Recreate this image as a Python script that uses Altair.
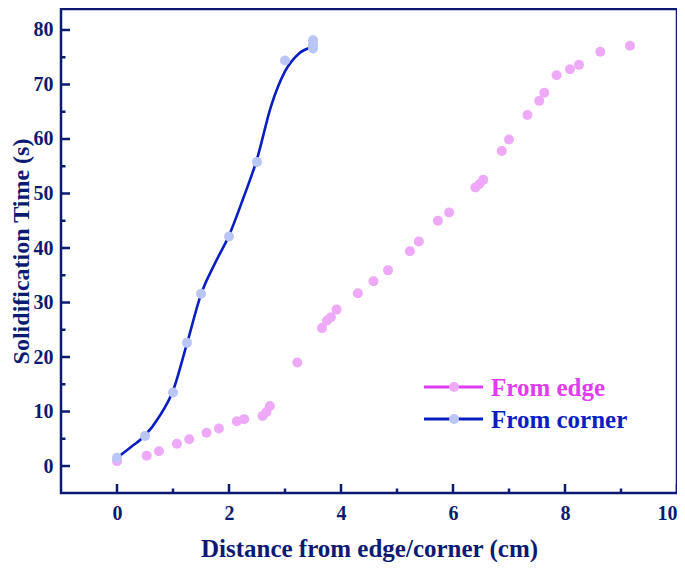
import altair as alt
import pandas as pd

# ---- data ----
edge_x = [0.0, 0.53, 0.75, 1.07, 1.29, 1.60, 1.82, 2.14, 2.27, 2.60, 2.67, 2.73, 3.22,
          3.66, 3.75, 3.82, 3.92, 4.30, 4.58, 4.84, 5.23, 5.39, 5.73, 5.93, 6.40, 6.47,
          6.54, 6.87, 7.00, 7.33, 7.54, 7.63, 7.85, 8.09, 8.25, 8.63, 9.16]
edge_y = [0.9, 1.9, 2.7, 4.1, 4.9, 6.1, 6.9, 8.2, 8.6, 9.2, 9.9, 11.0, 19.0,
          25.3, 26.7, 27.3, 28.7, 31.7, 33.9, 35.9, 39.4, 41.2, 45.0, 46.5, 51.1, 51.7,
          52.5, 57.8, 59.9, 64.4, 67.0, 68.5, 71.7, 72.8, 73.6, 76.0, 77.1]

corner_x = [0.0, 0.5, 1.0, 1.25, 1.5, 2.0, 2.5, 3.0, 3.5, 3.5, 3.5]
corner_y = [1.5, 5.5, 13.5, 22.6, 31.6, 42.1, 55.8, 74.4, 76.6, 77.3, 78.1]

# smooth curve through the corner series
curve_x = [0.0, 0.25, 0.5, 0.75, 1.0, 1.25, 1.5, 1.75, 2.0, 2.25, 2.5, 2.75, 3.0, 3.25, 3.5]
curve_y = [1.5, 3.5, 5.6, 9.0, 13.8, 22.5, 31.5, 37.2, 42.3, 49.0, 56.3, 66.0, 72.4, 75.7, 76.9]

x_major = [0, 2, 4, 6, 8, 10]
x_minor = [1, 3, 5, 7, 9]
y_major = [0, 10, 20, 30, 40, 50, 60, 70, 80]
y_minor = [5, 15, 25, 35, 45, 55, 65, 75]

legend_labels = ["From edge", "From corner"]

x_title = "Distance from edge/corner (cm)"
y_title = "Solidification Time (s)"

# ---- styling ----
NAVY = "#0c1a72"
EDGE_MARK = "#eeaaf8"
EDGE_LINE = "#e03cf0"
CORNER_MARK = "#bac6f5"
CORNER_LINE = "#0a1ec0"
FONT = "Liberation Serif"
W, H = 616, 484

xs = alt.Scale(domain=[-1, 10], nice=False, zero=False)
ys = alt.Scale(domain=[-4.95, 83.85], nice=False, zero=False)

edge_df = pd.DataFrame({"x": edge_x, "y": edge_y})
corner_df = pd.DataFrame({"x": corner_x, "y": corner_y})
curve_df = pd.DataFrame({"x": curve_x, "y": curve_y})

x_axis = alt.Axis(values=x_major, format="d", ticks=False, domain=False, grid=False,
                  labelPadding=10, labelFlush=False, labelOverlap=False,
                  labelAlign={"condition": {"test": "datum.value >= 10", "value": "right"},
                              "value": "center"},
                  title=x_title, titlePadding=13, titleFontSize=25)
y_axis = alt.Axis(values=y_major, format="d", ticks=False, domain=False, grid=False,
                  labelPadding=8, labelFlush=False, labelOverlap=False,
                  title=y_title, titlePadding=0, titleFontSize=24)

X = alt.X("x:Q", scale=xs, axis=x_axis)
Y = alt.Y("y:Q", scale=ys, axis=y_axis)

edge_pts = alt.Chart(edge_df).mark_circle(size=100, opacity=1, color=EDGE_MARK).encode(x=X, y=Y)

curve = alt.Chart(curve_df).mark_line(color=CORNER_LINE, strokeWidth=2.6,
                                      interpolate="monotone").encode(x=X, y=Y)

corner_pts = alt.Chart(corner_df).mark_circle(size=100, opacity=1, color=CORNER_MARK).encode(x=X, y=Y)


def xticks(vals, length):
    return alt.Chart(pd.DataFrame({"x": vals})).mark_rule(
        color=NAVY, strokeWidth=2.5, strokeCap="butt").encode(
        x=X, y=alt.value(H), y2=alt.value(H - length))


def yticks(vals, length):
    return alt.Chart(pd.DataFrame({"y": vals})).mark_rule(
        color=NAVY, strokeWidth=2.5, strokeCap="butt").encode(
        y=Y, x=alt.value(0), x2=alt.value(length))


def legend_entry(label, line_color, mark_color, text_color, ypix):
    one = pd.DataFrame({"label": [label]})
    line = alt.Chart(one).mark_rule(color=line_color, strokeWidth=2.8).encode(
        x=alt.value(363), x2=alt.value(422), y=alt.value(ypix))
    dot = alt.Chart(one).mark_circle(size=100, opacity=1, color=mark_color).encode(
        x=alt.value(393), y=alt.value(ypix))
    txt = alt.Chart(one).mark_text(align="left", baseline="middle", font=FONT,
                                   fontWeight="bold", fontSize=25, color=text_color,
                                   dy=1).encode(
        x=alt.value(430), y=alt.value(ypix), text="label:N")
    return line + dot + txt


chart = alt.layer(
    edge_pts,
    xticks(x_major, 9), xticks(x_minor, 4.5),
    yticks(y_major, 9), yticks(y_minor, 4.5),
    curve, corner_pts,
    legend_entry(legend_labels[0], EDGE_LINE, EDGE_MARK, EDGE_LINE, 378),
    legend_entry(legend_labels[1], CORNER_LINE, CORNER_MARK, CORNER_LINE, 410),
).properties(
    width=W, height=H,
    autosize=alt.AutoSizeParams(type="none"),
    padding={"left": 53, "top": 1, "right": 0, "bottom": 69},
    background="white",
).configure_view(
    stroke=NAVY, strokeWidth=2.5,
).configure_axis(
    labelFont=FONT, labelFontSize=20, labelFontWeight="bold", labelColor=NAVY,
    titleFont=FONT, titleFontWeight="bold", titleColor=NAVY,
)

chart.save("out.html", embed_options={"renderer": "svg", "actions": False})
